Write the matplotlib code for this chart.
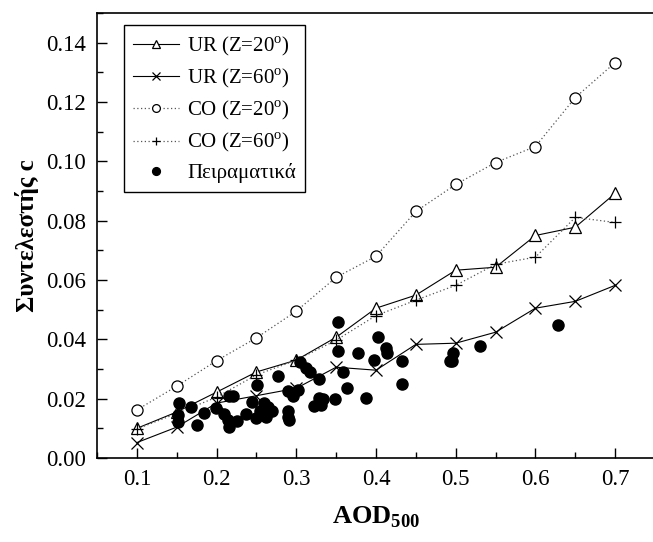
import matplotlib
matplotlib.use("Agg")
import matplotlib.pyplot as plt
from matplotlib.ticker import MultipleLocator

plt.rcParams['font.family'] = ['Liberation Serif', 'DejaVu Serif']
plt.rcParams['mathtext.fontset'] = 'custom'
plt.rcParams['mathtext.rm'] = 'Liberation Serif'
plt.rcParams['mathtext.bf'] = 'Liberation Serif:bold'

aod = [0.1, 0.15, 0.2, 0.25, 0.3, 0.35, 0.4, 0.45, 0.5, 0.55, 0.6, 0.65, 0.7]
ur_z20 = [0.0100, 0.0155, 0.0222, 0.0290, 0.0330, 0.0407, 0.0505, 0.0549, 0.0633, 0.0643, 0.0750, 0.0778, 0.0892]
ur_z60 = [0.0052, 0.0104, 0.0185, 0.0210, 0.0235, 0.0306, 0.0296, 0.0383, 0.0387, 0.0424, 0.0505, 0.0528, 0.0582]
co_z20 = [0.0162, 0.0242, 0.0328, 0.0405, 0.0495, 0.0609, 0.0680, 0.0831, 0.0922, 0.0996, 0.1050, 0.1215, 0.1333]
co_z60 = [0.0098, 0.0150, 0.0205, 0.0280, 0.0330, 0.0397, 0.0480, 0.0532, 0.0582, 0.0653, 0.0677, 0.0811, 0.0794]

exp_x = [0.153, 0.151, 0.151, 0.168, 0.175, 0.184, 0.199, 0.209, 0.215, 0.220, 0.214, 0.215,
         0.226, 0.237, 0.245, 0.251, 0.249, 0.255, 0.259, 0.264, 0.270, 0.262, 0.277, 0.289,
         0.296, 0.302, 0.289, 0.289, 0.291, 0.305, 0.312, 0.317, 0.328, 0.322, 0.328, 0.333,
         0.331, 0.349, 0.352, 0.352, 0.359, 0.364, 0.377, 0.387, 0.403, 0.412, 0.414, 0.397,
         0.433, 0.433, 0.493, 0.497, 0.495, 0.531, 0.628]
exp_y = [0.0185, 0.0145, 0.0120, 0.0172, 0.0110, 0.0152, 0.0168, 0.0150, 0.0210, 0.0210, 0.0128, 0.0105,
         0.0125, 0.0150, 0.0188, 0.0245, 0.0135, 0.0160, 0.0185, 0.0172, 0.0160, 0.0138, 0.0276, 0.0226,
         0.0210, 0.0230, 0.0160, 0.0138, 0.0128, 0.0323, 0.0303, 0.0290, 0.0266, 0.0175, 0.0202, 0.0199,
         0.0178, 0.0199, 0.0458, 0.0360, 0.0290, 0.0236, 0.0353, 0.0202, 0.0407, 0.0370, 0.0353, 0.0330,
         0.0327, 0.0249, 0.0327, 0.0353, 0.0327, 0.0377, 0.0450]

fig = plt.figure(figsize=(6.53, 5.42), dpi=100)
ax = fig.add_axes([97/653, 84/542, 558/653, 445/542])

ax.plot(aod, ur_z20, color='black', lw=0.8, marker='^', ms=8, mfc='white', mec='black', mew=0.9,
        label='UR (Z=20$^{\\rm o}$)', zorder=3)
ax.plot(aod, ur_z60, color='black', lw=0.8, marker='x', ms=8, mec='black', mew=0.9,
        label='UR (Z=60$^{\\rm o}$)', zorder=3)
ax.plot(aod, co_z20, color='#555555', lw=0.9, ls=(0, (1, 2)), marker='o', ms=8, mfc='white',
        mec='black', mew=0.9, label='CO (Z=20$^{\\rm o}$)', zorder=3)
ax.plot(aod, co_z60, color='#555555', lw=0.9, ls=(0, (1, 2)), marker='+', ms=8, mec='black', mew=0.9,
        label='CO (Z=60$^{\\rm o}$)', zorder=3)
ax.plot(exp_x, exp_y, ls='none', marker='o', ms=8, color='black', label='Πειραματικά', zorder=4)

ax.set_xlim(0.05, 0.75)
ax.set_ylim(0.0, 0.15)
ax.xaxis.set_minor_locator(MultipleLocator(0.05))
ax.yaxis.set_minor_locator(MultipleLocator(0.01))
ax.set_xticks([0.1, 0.2, 0.3, 0.4, 0.5, 0.6, 0.7])
ax.set_xticklabels(['0.1', '0.2', '0.3', '0.4', '0.5', '0.6', '0.7'])
ax.set_yticks([0.0, 0.02, 0.04, 0.06, 0.08, 0.10, 0.12, 0.14])
ax.set_yticklabels(['0.00', '0.02', '0.04', '0.06', '0.08', '0.10', '0.12', '0.14'])
ax.tick_params(which='both', direction='in', labelsize=16.5, width=1.0, colors='black')
ax.tick_params(which='major', length=7)
ax.tick_params(which='minor', length=4)
ax.tick_params(axis='x', pad=8)
ax.tick_params(axis='y', pad=8)
for s in ax.spines.values():
    s.set_linewidth(1.2)

ax.set_xlabel('AOD$_{\\mathbf{500}}$', fontsize=19, fontweight='bold', labelpad=10)
ax.set_ylabel('Συντελεστής c', fontsize=18, fontweight='bold', labelpad=5)

leg = ax.legend(loc='upper left', bbox_to_anchor=(0.048, 0.973), borderaxespad=0, fontsize=15,
                frameon=True, fancybox=False, edgecolor='black', framealpha=1, markerscale=0.7,
                handlelength=2.2, handletextpad=0.4, borderpad=0.45, labelspacing=0.42)
leg.get_frame().set_linewidth(1.0)

fig.savefig('out.png', dpi=100)
